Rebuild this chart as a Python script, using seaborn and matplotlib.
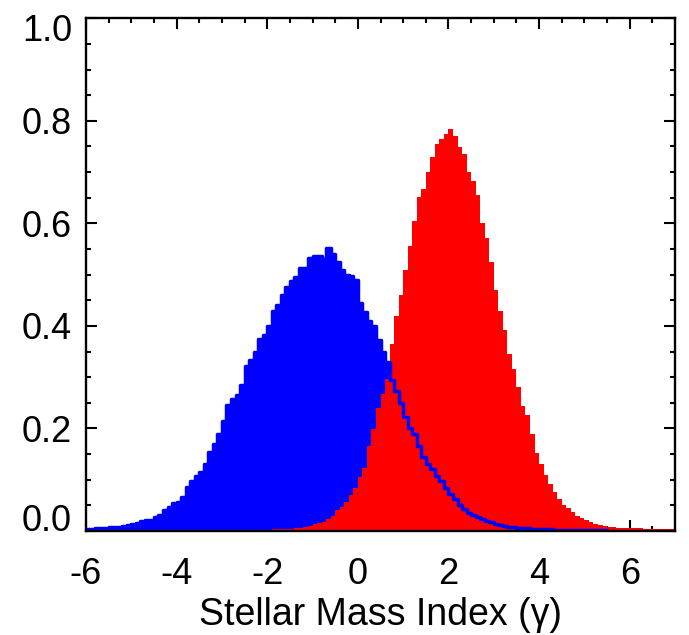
import numpy as np
import pandas as pd
import matplotlib
matplotlib.use("Agg")
import matplotlib.pyplot as plt
import matplotlib.transforms as mtransforms
import seaborn as sns

# ---- data ----
bin_width = 0.1
blue_start = -6.0
blue_vals = [
    0.004, 0.004, 0.005, 0.005, 0.006, 0.007, 0.008, 0.008, 0.009, 0.011,
    0.013, 0.015, 0.019, 0.021, 0.022, 0.027, 0.031, 0.040, 0.047, 0.054,
    0.057, 0.066, 0.085, 0.097, 0.107, 0.115, 0.131, 0.154, 0.170, 0.190,
    0.215, 0.245, 0.258, 0.266, 0.285, 0.321, 0.333, 0.350, 0.374, 0.383,
    0.399, 0.429, 0.440, 0.461, 0.476, 0.487, 0.496, 0.512, 0.512, 0.532,
    0.537, 0.537, 0.530, 0.551, 0.540, 0.524, 0.510, 0.500, 0.497, 0.490,
    0.444, 0.428, 0.409, 0.400, 0.372, 0.349, 0.329, 0.295, 0.273, 0.249,
    0.222, 0.200, 0.190, 0.166, 0.145, 0.130, 0.120, 0.108, 0.097, 0.084,
    0.072, 0.063, 0.051, 0.042, 0.036, 0.031, 0.027, 0.023, 0.020, 0.017,
    0.013, 0.011, 0.009, 0.008, 0.007, 0.006, 0.005, 0.005, 0.004, 0.004,
    0.003, 0.003, 0.003, 0.002, 0.002, 0.002, 0.002, 0.002, 0.001, 0.001,
    0.001, 0.001, 0.001, 0.001, 0.001,
]
red_start = -3.0
red_vals = [
    0.001, 0.001, 0.001, 0.001, 0.001, 0.001, 0.001, 0.002, 0.002, 0.002,
    0.002, 0.003, 0.003, 0.003, 0.004, 0.004, 0.005, 0.006, 0.008, 0.010,
    0.013, 0.015, 0.018, 0.024, 0.030, 0.040, 0.046, 0.057, 0.070, 0.083,
    0.105, 0.122, 0.165, 0.198, 0.240, 0.268, 0.297, 0.365, 0.420, 0.460,
    0.510, 0.555, 0.605, 0.652, 0.668, 0.700, 0.730, 0.755, 0.764, 0.775,
    0.784, 0.770, 0.749, 0.735, 0.700, 0.682, 0.655, 0.600, 0.571, 0.525,
    0.470, 0.430, 0.392, 0.345, 0.315, 0.280, 0.243, 0.226, 0.190, 0.152,
    0.130, 0.110, 0.092, 0.077, 0.063, 0.051, 0.044, 0.037, 0.030, 0.025,
    0.021, 0.017, 0.014, 0.011, 0.009, 0.008, 0.007, 0.006, 0.006, 0.005,
    0.005, 0.005, 0.005, 0.004, 0.004, 0.004, 0.004, 0.004, 0.004, 0.004,
]
x_ticks = [-6, -4, -2, 0, 2, 4, 6]
y_ticks = [0.0, 0.2, 0.4, 0.6, 0.8, 1.0]
y_ticklabels = ["0.0", "0.2", "0.4", "0.6", "0.8", "1.0"]
xlabel = "Stellar Mass Index (\u03b3)"

# ---- derived bins ----
blue_edges = [blue_start + bin_width * i for i in range(len(blue_vals) + 1)]
red_edges = [red_start + bin_width * i for i in range(len(red_vals) + 1)]
blue_df = pd.DataFrame({"x": [e + bin_width / 2 for e in blue_edges[:-1]],
                        "w": blue_vals})
red_df = pd.DataFrame({"x": [e + bin_width / 2 for e in red_edges[:-1]],
                       "w": red_vals})

sns.set_style("ticks")
plt.rcParams["font.family"] = ["Liberation Sans", "DejaVu Sans"]

fig = plt.figure(figsize=(6.89, 6.35), dpi=100)
ax = fig.add_axes([0.1248, 0.1638, 0.8549, 0.8074])

sns.histplot(data=blue_df, x="x", weights="w", bins=blue_edges, element="step",
             fill=True, color="#0000ff", alpha=1, linewidth=0, ax=ax)
sns.histplot(data=red_df, x="x", weights="w", bins=red_edges, element="step",
             fill=True, color="#ff0000", alpha=1, linewidth=0, ax=ax)
sns.histplot(data=blue_df, x="x", weights="w", bins=blue_edges, element="step",
             fill=False, color="#0000ff", linewidth=2.5, ax=ax)

ax.set_xlim(-6, 7)
ax.set_ylim(0, 1.0)
ax.set_xticks(x_ticks)
ax.set_xticklabels([str(t) for t in x_ticks])
ax.set_xticks(np.arange(-6, 7.01, 0.5), minor=True)
ax.set_yticks(y_ticks)
ax.set_yticklabels(y_ticklabels)
ax.set_yticks(np.arange(0, 1.001, 0.05), minor=True)

ax.tick_params(which="both", direction="in", top=True, right=True,
               width=1.5, color="black", labelsize=26, labelcolor="black")
ax.tick_params(which="major", length=7.7)
ax.tick_params(which="minor", length=3.4)
ax.tick_params(axis="x", which="major", pad=19)
ax.tick_params(axis="y", which="major", pad=10)

for sp in ax.spines.values():
    sp.set_linewidth(1.7)
    sp.set_color("black")
    sp.set_zorder(5)

ax.set_ylabel("")
ax.set_xlabel(xlabel, fontsize=27, labelpad=3, color="black")

# IDL-like nudges of the end labels
labels = ax.get_yticklabels()
labels[0].set_transform(labels[0].get_transform() +
                        mtransforms.ScaledTranslation(0, 10 / 72, fig.dpi_scale_trans))
labels[-1].set_transform(labels[-1].get_transform() +
                         mtransforms.ScaledTranslation(0, -6.5 / 72, fig.dpi_scale_trans))

fig.savefig("out.png", dpi=100)
